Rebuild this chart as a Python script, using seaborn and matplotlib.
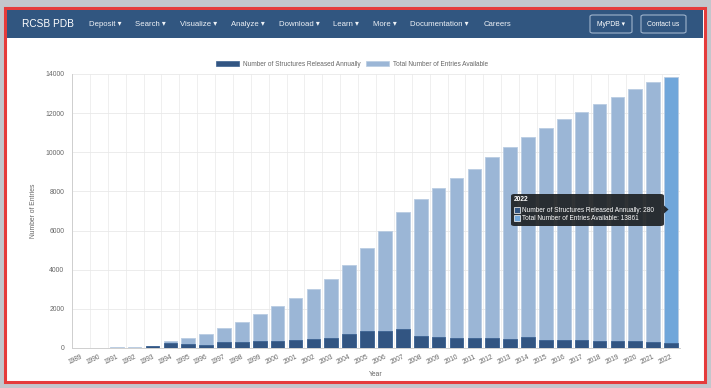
import matplotlib
matplotlib.use("Agg")
import matplotlib.pyplot as plt
import seaborn as sns
from matplotlib.patches import Rectangle, FancyBboxPatch, Polygon, Patch

# data
years = [str(y) for y in range(1989, 2023)]
annual = [10, 5, 10, 10, 100, 240, 200, 170, 305, 308, 360, 360, 410, 445, 513, 718, 855,
          855, 957, 632, 547, 513, 510, 510, 475, 543, 425, 425, 390, 357, 357, 357, 323, 280]
total = [10, 15, 55, 35, 110, 340, 510, 710, 1040, 1350, 1760, 2150, 2550, 2990, 3520, 4240,
         5110, 6000, 6960, 7620, 8190, 8700, 9170, 9760, 10250, 10790, 11240, 11680, 12080,
         12490, 12850, 13240, 13610, 13861]
y_ticks = [0, 2000, 4000, 6000, 8000, 10000, 12000, 14000]
menu = ["Deposit", "Search", "Visualize", "Analyze", "Download", "Learn", "More", "Documentation"]
menu_x = [89, 135, 180, 231, 279, 333, 373, 410]

DARK = "#325582"
LIGHT = "#9bb6d6"
HILITE = "#70a6da"
NAV = "#315680"

W, H = 711, 388
FONT = ["Liberation Sans", "DejaVu Sans"]

sns.set_style("white")
plt.rcParams["font.family"] = FONT


def fx(x):
    return x / W


def fy(y):
    return 1 - y / H


fig = plt.figure(figsize=(W / 100, H / 100), dpi=100, facecolor="#c3c6cc")

# page frame: red border, navbar, white content
fig.patches.append(Rectangle((fx(5), fy(382)), fx(700), 374 / H, transform=fig.transFigure,
                             facecolor="white", edgecolor="#e53b3b", linewidth=2.2, zorder=-3))
fig.patches.append(Rectangle((fx(7), fy(38)), fx(696), 28 / H, transform=fig.transFigure,
                             facecolor=NAV, edgecolor="none", zorder=-2))

fig.text(fx(22), fy(24), "RCSB PDB", color="white", fontsize=7.3, va="center", ha="left")
for name, x in zip(menu, menu_x):
    fig.text(fx(x), fy(24), name + " \u25be", color="#eef2f7", fontsize=5.6, va="center", ha="left",
             family=FONT)
fig.text(fx(484), fy(24), "Careers", color="#eef2f7", fontsize=5.6, va="center", ha="left")

for x0, x1, label in [(590, 632, "MyPDB \u25be"), (641, 686, "Contact us")]:
    fig.patches.append(FancyBboxPatch((fx(x0), fy(33)), fx(x1 - x0), 18 / H,
                                      boxstyle="round,pad=0,rounding_size=0.004",
                                      transform=fig.transFigure, facecolor="none",
                                      edgecolor="#9fb4cd", linewidth=0.8, zorder=-1))
    fig.text(fx((x0 + x1) / 2), fy(24), label, color="white", fontsize=4.9,
             va="center", ha="center", family=FONT)

# chart
ax = fig.add_axes([fx(72), fy(348), fx(608), 274 / H])
ax.set_facecolor("white")
pal = [LIGHT] * (len(years) - 1) + [HILITE]
sns.barplot(x=years, y=total, hue=years, palette=pal, legend=False, width=0.76,
            saturation=1, edgecolor="#b9cce2", linewidth=0.6, ax=ax, zorder=2)
sns.barplot(x=years, y=annual, color=DARK, width=0.76, saturation=1,
            edgecolor="#3d6392", linewidth=0.6, ax=ax, zorder=3)

ax.set_xlim(-0.5, len(years) - 0.5)
ax.set_ylim(0, 14000)
ax.set_yticks(y_ticks)
ax.set_yticklabels([str(v) for v in y_ticks])
ax.set_xticks(range(len(years)))
ax.set_xticklabels(years, rotation=25, ha="right", rotation_mode="anchor")
ax.set_xticks([i - 0.5 for i in range(len(years) + 1)], minor=True)
ax.tick_params(axis="x", which="major", length=0, pad=4, labelsize=4.8, labelcolor="#666666")
ax.tick_params(axis="x", which="minor", length=3, color="#e6e6e6", width=0.6)
ax.tick_params(axis="y", length=4, color="#e6e6e6", width=0.6, pad=1.5,
               labelsize=4.9, labelcolor="#666666")
ax.grid(axis="y", color="#e9e9e9", linewidth=0.6, zorder=0)
ax.grid(axis="x", which="minor", color="#ededed", linewidth=0.6, zorder=0)
ax.grid(axis="x", which="major", visible=False)
ax.set_axisbelow(True)
for side in ["top", "right"]:
    ax.spines[side].set_visible(False)
for side in ["left", "bottom"]:
    ax.spines[side].set_color("#cfcfcf")
    ax.spines[side].set_linewidth(0.7)

ax.set_xlabel("Year", fontsize=4.9, color="#666666")
ax.set_ylabel("Number of Entries", fontsize=4.9, color="#666666")
ax.xaxis.set_label_coords(0.5, -0.085)
ax.yaxis.set_label_coords(-0.057, 0.5)

handles = [Patch(facecolor=DARK, edgecolor="#3d6392", linewidth=0.5),
           Patch(facecolor=LIGHT, edgecolor="#b9cce2", linewidth=0.5)]
fig.legend(handles, ["Number of Structures Released Annually", "Total Number of Entries Available"],
           loc="center", bbox_to_anchor=(fx(352), fy(64)), ncol=2, frameon=False,
           fontsize=4.7, handlelength=3.5, handleheight=0.9, handletextpad=0.6,
           columnspacing=0.9, labelcolor="#666666")

# tooltip for the hovered 2022 bar
fig.patches.append(FancyBboxPatch((fx(511), fy(226)), fx(153), 32 / H,
                                  boxstyle="round,pad=0,rounding_size=0.005",
                                  transform=fig.transFigure, facecolor="#1e2124",
                                  edgecolor="none", alpha=0.92, zorder=5))
fig.patches.append(Polygon([(fx(664), fy(205.5)), (fx(668.5), fy(209.5)), (fx(664), fy(213.5))],
                           closed=True, transform=fig.transFigure, facecolor="#1e2124",
                           edgecolor="none", alpha=0.92, zorder=5))
fig.text(fx(514), fy(200), years[-1], color="white", fontsize=4.8, fontweight="bold",
         va="center", ha="left", zorder=6)
for yy, col, txt in [(210, DARK, f"Number of Structures Released Annually: {annual[-1]}"),
                     (218, HILITE, f"Total Number of Entries Available: {total[-1]}")]:
    fig.patches.append(Rectangle((fx(514), fy(yy + 3)), fx(6), 6 / H, transform=fig.transFigure,
                                 facecolor=col, edgecolor="white", linewidth=0.5, zorder=6))
    fig.text(fx(521.5), fy(yy), txt, color="white", fontsize=4.7, va="center", ha="left", zorder=6)

fig.savefig("out.png", dpi=100, facecolor=fig.get_facecolor())
